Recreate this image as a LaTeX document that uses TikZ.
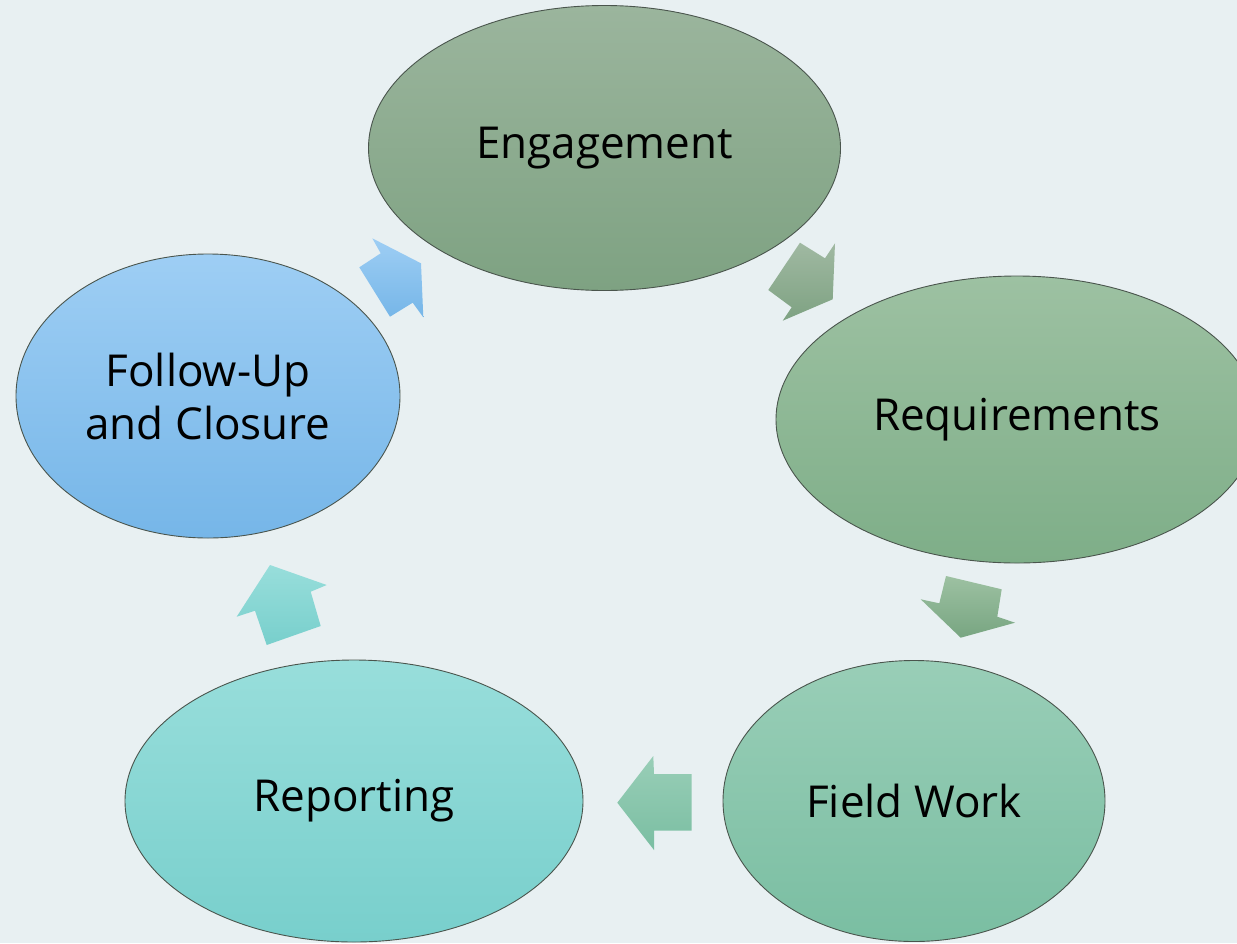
\documentclass[tikz,border=0pt]{standalone}
\usepackage{fontspec}
\setmainfont{Open Sans}
\usetikzlibrary{shapes.geometric}

\definecolor{bg}{HTML}{E8F0F2}
\definecolor{rim}{HTML}{4A554D}
\definecolor{engTop}{HTML}{9BB59D}
\definecolor{engBot}{HTML}{7EA282}
\definecolor{reqTop}{HTML}{9DC1A2}
\definecolor{reqBot}{HTML}{7EAE88}
\definecolor{fwTop}{HTML}{99CEB7}
\definecolor{fwBot}{HTML}{7ABEA2}
\definecolor{repTop}{HTML}{98DEDB}
\definecolor{repBot}{HTML}{78CFCC}
\definecolor{fuTop}{HTML}{9ECEF4}
\definecolor{fuBot}{HTML}{76B6E8}

\tikzset{
  stage/.style={ellipse, draw=rim, line width=0.9pt, inner sep=0pt,
    align=center, font=\fontsize{44}{53}\selectfont, text=black},
  blockarrow/.style={draw=none}
}

\begin{document}
\begin{tikzpicture}[x=1pt,y=-1pt]
  % canvas
  \fill[bg] (0,0) rectangle (1237,943);
  \useasboundingbox (0,0) rectangle (1237,943);

  % process stages
  \node[stage, minimum width=472, minimum height=285,
        top color=engTop, bottom color=engBot] (eng) at (604.5,148) {Engagement};
  \node[stage, minimum width=482, minimum height=287,
        top color=reqTop, bottom color=reqBot] (req) at (1017,419.5) {Requirements};
  \node[stage, minimum width=382, minimum height=281,
        top color=fwTop, bottom color=fwBot] (fw) at (914,801) {Field Work};
  \node[stage, minimum width=458, minimum height=282,
        top color=repTop, bottom color=repBot] (rep) at (354,801) {Reporting};
  \node[stage, minimum width=384, minimum height=284,
        top color=fuTop, bottom color=fuBot] (fu) at (208,396) {Follow-Up\\and Closure};

  % block arrows between the stages
  \shade[blockarrow, top color=engTop!95!white, bottom color=engBot]
    (800,242.7) -- (825,258.3) -- (835,243.3) -- (832.7,299.3)
    -- (782.7,320.7) -- (791.7,307.3) -- (768.3,290) -- cycle;
  \shade[blockarrow, top color=reqTop, bottom color=reqBot!95!black]
    (946,576) -- (1001.7,589.3) -- (997.3,616.7) -- (1015,622.7)
    -- (960.7,637.7) -- (920.7,599.3) -- (939.3,603.3) -- cycle;
  \shade[blockarrow, top color=fwTop, bottom color=fwBot]
    (653.3,756) -- (654,774) -- (691.7,774) -- (691.7,830.7)
    -- (654,830.7) -- (654,850) -- (617.3,802.7) -- cycle;
  \shade[blockarrow, top color=repTop, bottom color=repBot]
    (270,565) -- (326.7,585) -- (310.7,591.7) -- (320.7,626)
    -- (266.7,645) -- (255,610.7) -- (236.7,616.7) -- cycle;
  \shade[blockarrow, top color=fuTop, bottom color=fuBot]
    (372.3,238.3) -- (380.7,253.3) -- (359.3,267.3) -- (390,316.7)
    -- (412.7,302.7) -- (423.3,317.3) -- (421,263.3) -- cycle;
\end{tikzpicture}
\end{document}
